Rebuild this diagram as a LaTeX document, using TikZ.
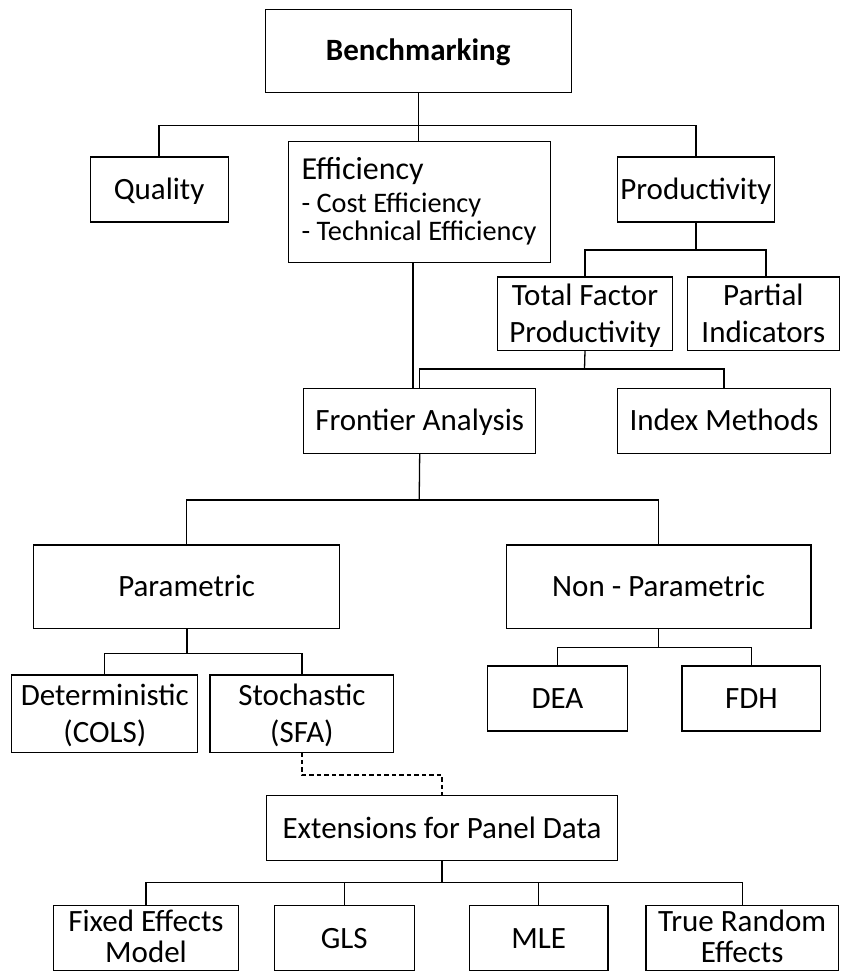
\documentclass[tikz,border=0pt]{standalone}
\usepackage{fontspec}
\setmainfont{Carlito}
\begin{document}
\begin{tikzpicture}[x=1pt,y=-1pt,
  every node/.style={inner sep=0pt,outer sep=0pt},
  box/.style={draw=black,line width=1.2pt,rectangle,align=center,
    font=\fontsize{31}{37}\selectfont,text height=20pt,text depth=0pt},
  twoline/.style={box,text height=57pt,text depth=0pt},
  bottwo/.style={box,font=\fontsize{31}{31}\selectfont,text height=49.8pt,text depth=0pt},
  sub/.style={anchor=base west,font=\fontsize{28.3}{33}\selectfont},
  link/.style={line width=1.3pt},
  trunk/.style={line width=1.9pt},
  dotlink/.style={line width=1.6pt,dash pattern=on 4.5pt off 3pt}]
\useasboundingbox (0,0) rectangle (840,971);
% top levels
\node[box,minimum width=306pt,minimum height=83pt,font=\fontsize{31}{37}\selectfont\bfseries] (bench) at (418.2,50.8) {Benchmarking};
\node[box,minimum width=138pt,minimum height=65pt] (quality) at (159.1,189.5) {Quality};
\node[box,minimum width=262pt,minimum height=121pt] (eff) at (419.2,201.8) {};
\node[sub,font=\fontsize{32}{37}\selectfont] (eff1) at (301.6,179) {Efficiency};
\node[sub] (eff2) at (301.6,212) {- Cost Efficiency};
\node[sub] (eff3) at (301.6,240.7) {- Technical Efficiency};
\node[box,minimum width=156.4pt,minimum height=65pt] (prod) at (695.9,189.5) {Productivity};
\node[twoline,minimum width=174.6pt,minimum height=73.7pt] (tfp) at (585,313.8) {Total Factor\\Productivity};
\node[twoline,minimum width=152pt,minimum height=73.7pt] (partial) at (763.3,313.8) {Partial\\Indicators};
\node[box,minimum width=232pt,minimum height=65pt] (frontier) at (419.7,420.8) {Frontier Analysis};
\node[box,minimum width=212.7pt,minimum height=65pt] (index) at (724,420.8) {Index Methods};
\node[box,minimum width=305.9pt,minimum height=83.3pt] (param) at (186.6,586.7) {Parametric};
\node[box,minimum width=304.8pt,minimum height=83.3pt] (nonparam) at (658.6,586.7) {Non - Parametric};
\node[twoline,minimum width=185.9pt,minimum height=77.3pt] (determ) at (104.8,713.7) {Deterministic\\(COLS)};
\node[twoline,minimum width=183.7pt,minimum height=77.3pt] (stoch) at (301.9,713.7) {Stochastic\\(SFA)};
\node[box,minimum width=139.8pt,minimum height=65pt] (dea) at (557.4,698.5) {DEA};
\node[box,minimum width=138.7pt,minimum height=65pt] (fdh) at (751.4,698.5) {FDH};
\node[box,minimum width=351.5pt,minimum height=65pt] (ext) at (442,828.2) {Extensions for Panel Data};
\node[bottwo,minimum width=184.8pt,minimum height=64.6pt] (fe) at (146,938) {Fixed Effects\\Model};
\node[box,minimum width=139.8pt,minimum height=64.6pt] (gls) at (344.2,938) {GLS};
\node[box,minimum width=138.7pt,minimum height=64.6pt] (mle) at (538.7,938) {MLE};
\node[bottwo,minimum width=192.3pt,minimum height=64.6pt] (tre) at (742.2,938) {True Random\\Effects};
% bus coordinates
\coordinate (b1) at (418.2,125.7);
\coordinate (b3) at (695.9,250);
\coordinate (b2) at (584.5,369);
\coordinate (b4) at (419.2,500);
\coordinate (b5) at (186.6,653.3);
\coordinate (b6) at (658.6,647.7);
\coordinate (b7) at (442,775);
\coordinate (b8) at (442,882.3);
% connectors
\draw[link] (bench.south) -- (bench.south |- eff.north);
\draw[link] (quality.north) |- (b1) -| (prod.north);
\draw[trunk] (prod.south) -- (b3);
\draw[link] (tfp.north) |- (b3) -| ([xshift=2.7pt]partial.north);
\draw[link] ([xshift=-6.2pt]eff.south) -- ([xshift=-6.2pt]eff.south |- frontier.north);
\draw[link] (tfp.south) -- (b2);
\draw[link] (frontier.north) |- (b2) -| (index.north);
\draw[link] (frontier.south) -- (b4);
\draw[link] (param.north) |- (b4) -| (nonparam.north);
\draw[trunk] (param.south) -- (b5);
\draw[link] (determ.north) |- (b5) -| (stoch.north);
\draw[link] (nonparam.south) -- (b6);
\draw[link] (dea.north) |- (b6) -| (fdh.north);
\draw[dotlink] (stoch.south) |- (b7) -- (ext.north);
\draw[trunk] (ext.south) -- (b8);
\draw[link] (fe.north) |- (b8) -| (tre.north);
\draw[link] (gls.north) -- (gls.north |- b8);
\draw[link] (mle.north) -- (mle.north |- b8);
\end{tikzpicture}
\end{document}
